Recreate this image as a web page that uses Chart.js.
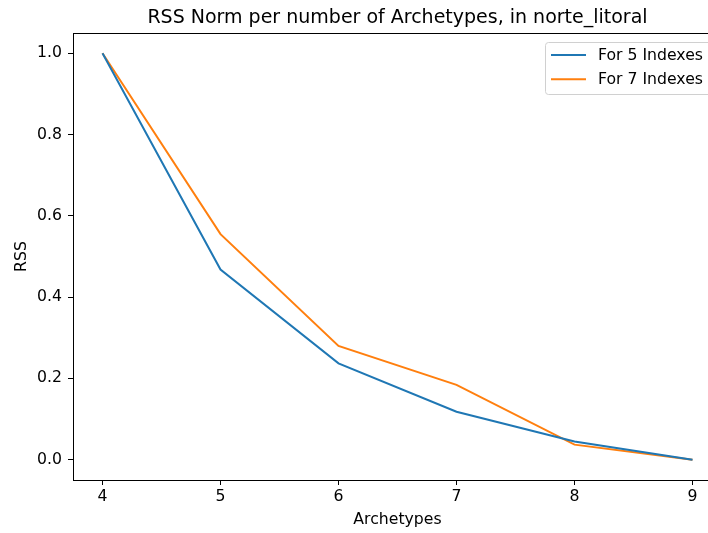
<!DOCTYPE html>
<html>
<head>
<meta charset="utf-8">
<script src="https://cdn.jsdelivr.net/npm/chart.js@4.4.0/dist/chart.umd.min.js"></script>
<style>
  html, body { margin: 0; padding: 0; background: #fff; overflow: hidden; }
  #wrap { width: 708px; height: 533px; overflow: hidden; position: relative; }
  canvas { display: block; }
</style>
</head>
<body>
<div id="wrap"><canvas id="c" width="722" height="533"></canvas></div>
<script>
const archetypes = [4, 5, 6, 7, 8, 9];
const rss5 = [1.0, 0.468, 0.237, 0.118, 0.045, 0.0];
const rss7 = [1.0, 0.555, 0.280, 0.184, 0.037, 0.0];
const seriesLabels = ['For 5 Indexes', 'For 7 Indexes'];
const xTicks = [4, 5, 6, 7, 8, 9];
const yTicks = [0.0, 0.2, 0.4, 0.6, 0.8, 1.0];
const titleText = 'RSS Norm per number of Archetypes, in norte_litoral';
const xTitle = 'Archetypes';
const yTitle = 'RSS';
const colors = ['#1f77b4', '#ff7f0e'];

const FONT = '"DejaVu Sans", sans-serif';
const TICK_SIZE = 15.7;

const decor = {
  id: 'decor',
  afterDraw(chart) {
    const ctx = chart.ctx;
    const a = chart.chartArea;
    ctx.save();
    // axes frame
    ctx.strokeStyle = '#000';
    ctx.lineWidth = 1;
    ctx.strokeRect(Math.round(a.left) + 0.5, Math.round(a.top) + 0.5, Math.round(a.right - a.left), Math.round(a.bottom - a.top));
    // title
    const cx = (a.left + a.right) / 2;
    ctx.fillStyle = '#000';
    ctx.font = '19px ' + FONT;
    ctx.textAlign = 'center';
    ctx.textBaseline = 'middle';
    ctx.fillText(titleText, cx, 18);
    // x title
    ctx.font = TICK_SIZE + 'px ' + FONT;
    ctx.fillText(xTitle, cx, 520);
    // y title
    ctx.save();
    ctx.translate(22, (a.top + a.bottom) / 2);
    ctx.rotate(-Math.PI / 2);
    ctx.fillText(yTitle, 0, 0);
    ctx.restore();
    // legend
    const lx = 545.5, ly = 42.5, lw = 172, lh = 52;
    ctx.fillStyle = 'rgba(255,255,255,0.8)';
    ctx.strokeStyle = '#d0d0d0';
    ctx.lineWidth = 1;
    ctx.beginPath();
    if (ctx.roundRect) ctx.roundRect(lx, ly, lw, lh, 3); else ctx.rect(lx, ly, lw, lh);
    ctx.fill();
    ctx.stroke();
    const rows = [55, 79.3];
    ctx.font = TICK_SIZE + 'px ' + FONT;
    ctx.textAlign = 'left';
    ctx.textBaseline = 'middle';
    chart.data.datasets.forEach((ds, i) => {
      ctx.strokeStyle = ds.borderColor;
      ctx.lineWidth = 2;
      ctx.beginPath();
      ctx.moveTo(551, rows[i]);
      ctx.lineTo(586, rows[i]);
      ctx.stroke();
      ctx.fillStyle = '#000';
      ctx.fillText(ds.label, 598, rows[i] + 0.5);
    });
    ctx.restore();
  }
};

new Chart(document.getElementById('c'), {
  type: 'line',
  data: {
    datasets: [
      { label: seriesLabels[0], data: archetypes.map((x, i) => ({ x, y: rss5[i] })), borderColor: colors[0], backgroundColor: colors[0], borderWidth: 2, pointRadius: 0, tension: 0, fill: false },
      { label: seriesLabels[1], data: archetypes.map((x, i) => ({ x, y: rss7[i] })), borderColor: colors[1], backgroundColor: colors[1], borderWidth: 2, pointRadius: 0, tension: 0, fill: false }
    ]
  },
  options: {
    responsive: false,
    animation: false,
    devicePixelRatio: 1,
    layout: { padding: { top: 33, left: 0, right: 0, bottom: 0 } },
    plugins: { legend: { display: false }, title: { display: false }, tooltip: { enabled: false } },
    scales: {
      x: {
        type: 'linear',
        min: 3.75, max: 9.25,
        afterBuildTicks: s => { s.ticks = xTicks.map(v => ({ value: v })); },
        afterFit: s => { s.height = 53; },
        grid: { display: true, drawOnChartArea: false, drawTicks: true, tickLength: 5, color: '#000', lineWidth: 1 },
        border: { display: true, color: '#000', width: 1 },
        ticks: { color: '#000', font: { family: FONT, size: TICK_SIZE }, padding: 3, maxRotation: 0, callback: v => String(v) }
      },
      y: {
        type: 'linear',
        min: -0.05, max: 1.05,
        afterBuildTicks: s => { s.ticks = yTicks.map(v => ({ value: v })); },
        afterFit: s => { s.width = 73; },
        grid: { display: true, drawOnChartArea: false, drawTicks: true, tickLength: 5, color: '#000', lineWidth: 1 },
        border: { display: true, color: '#000', width: 1 },
        ticks: { color: '#000', font: { family: FONT, size: TICK_SIZE }, padding: 6, callback: v => v.toFixed(1) }
      }
    }
  },
  plugins: [decor]
});
</script>
</body>
</html>
